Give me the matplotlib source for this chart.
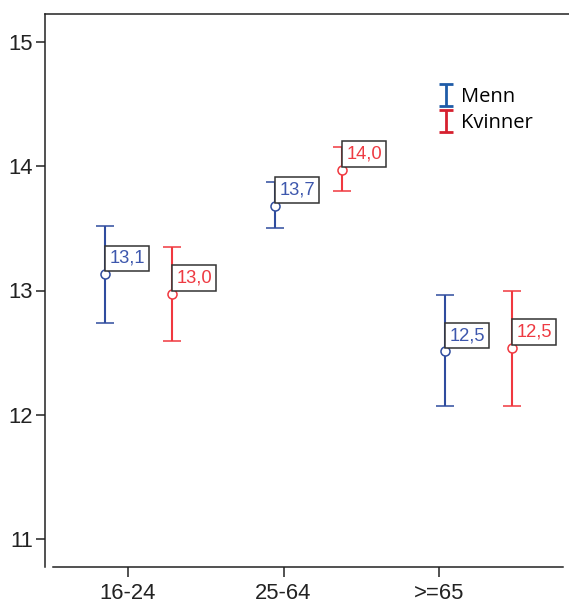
import matplotlib
matplotlib.use("Agg")
import matplotlib.pyplot as plt
from matplotlib.legend_handler import HandlerErrorbar
import numpy as np

# data
groups = ["16-24", "25-64", ">=65"]
menn_mean = [13.13, 13.68, 12.51]
menn_low = [12.74, 13.50, 12.07]
menn_high = [13.52, 13.87, 12.96]
kvinner_mean = [12.97, 13.97, 12.54]
kvinner_low = [12.59, 13.80, 12.07]
kvinner_high = [13.35, 14.15, 13.00]
menn_labels = ["13,1", "13,7", "12,5"]
kvinner_labels = ["13,0", "14,0", "12,5"]

BLUE = "#2f4c9e"
BLUE_TXT = "#3d57ad"
RED = "#f0383f"
RED_TXT = "#ee3a42"
LEG_BLUE = "#1f5ca8"
LEG_RED = "#d6202f"
DARK = "#222222"

plt.rcParams["font.family"] = ["Liberation Sans", "DejaVu Sans"]

fig = plt.figure(figsize=(5.69, 6.04), dpi=100)
ax = fig.add_axes([45 / 569, 1 - 567 / 604, 1 - 45 / 569, (567 - 14) / 604])

idx = np.arange(len(groups))
# SPSS-style clustered positions (clusters are spaced wider than the ticks)
menn_x = -0.148 + idx * 1.093
kvinner_x = menn_x + 0.431

LABEL_SIZE = 13.2
PAD = 0.24  # in fraction of font size
pad_px = PAD * LABEL_SIZE * 100 / 72


def draw_series(xs, mean, low, high, color, txt_color, labels):
    mean = np.asarray(mean)
    yerr = [mean - np.asarray(low), np.asarray(high) - mean]
    ax.errorbar(xs, mean, yerr=yerr, fmt="o", color=color, ecolor=color,
                mfc="white", mec=color, ms=6.5, mew=1.1,
                elinewidth=1.5, capsize=6.5, capthick=1.5, zorder=2)
    for x, m, lab in zip(xs, mean, labels):
        ax.annotate(lab, xy=(x, m), xytext=(pad_px, pad_px + 3),
                    textcoords="offset pixels",
                    ha="left", va="bottom", fontsize=LABEL_SIZE, color=txt_color,
                    bbox=dict(boxstyle=f"square,pad={PAD}", fc="white",
                              ec="#333333", lw=1.1), zorder=3)


draw_series(menn_x, menn_mean, menn_low, menn_high, BLUE, BLUE_TXT, menn_labels)
draw_series(kvinner_x, kvinner_mean, kvinner_low, kvinner_high, RED, RED_TXT,
            kvinner_labels)

# legend proxies: plain I-bars (NaN data, so nothing shows in the axes)
h_menn = ax.errorbar([np.nan], [np.nan], yerr=[1.0], fmt="none", ecolor=LEG_BLUE,
                     elinewidth=2, capsize=5, capthick=2)
h_kv = ax.errorbar([np.nan], [np.nan], yerr=[1.0], fmt="none", ecolor=LEG_RED,
                   elinewidth=2, capsize=5, capthick=2)
leg = ax.legend([h_menn, h_kv], ["Menn", "Kvinner"], loc="upper left",
                bbox_to_anchor=((440 - 45) / 524, 1 - (87 - 14) / 553),
                frameon=False, handlelength=0.6, handletextpad=0.45,
                labelspacing=0.3, borderaxespad=0, borderpad=0,
                prop={"family": "Open Sans", "size": 14.5},
                handler_map={type(h_menn): HandlerErrorbar(xerr_size=0.5, yerr_size=0.55)})

ax.set_xlim((45 - 128) / 155.5, (569 - 128) / 155.5)
ax.set_ylim(10.777, 15.223)
ax.set_xticks(idx)
ax.set_xticklabels(groups)
ax.set_yticks([11, 12, 13, 14, 15])

ax.spines["right"].set_visible(False)
for s in ["left", "top", "bottom"]:
    ax.spines[s].set_color(DARK)
    ax.spines[s].set_linewidth(1.1)
ax.spines["bottom"].set_bounds((53 - 128) / 155.5, (563 - 128) / 155.5)

ax.tick_params(axis="y", direction="out", length=6.5, width=1.1, color=DARK,
               labelsize=15.8, labelcolor=DARK, pad=2)
ax.tick_params(axis="x", direction="out", length=7.5, width=1.1, color=DARK,
               labelsize=15.8, labelcolor=DARK, pad=4)

fig.savefig("out.png", dpi=100)
